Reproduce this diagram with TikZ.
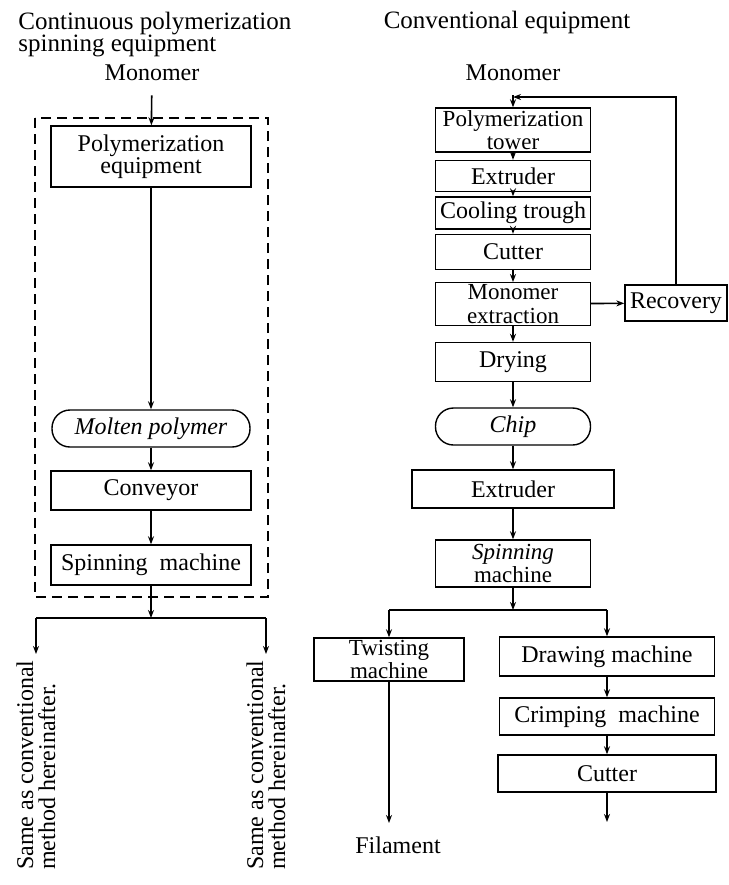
\documentclass[tikz,border=0pt]{standalone}
\usepackage{fontspec}
\setmainfont{Liberation Serif}
\usetikzlibrary{shapes}
\usetikzlibrary{positioning}
\usetikzlibrary{arrows.meta}

\begin{document}
\begin{tikzpicture}[x=0.5pt,y=-0.5pt]
        \tikzstyle{unit}=[rectangle,draw=black,line width=0.7pt,inner sep=1pt,align=center,font=\fontsize{12}{9.5}\selectfont]
        \tikzstyle{pair}=[unit,inner sep=1pt,font=\fontsize{11.5}{11.6}\selectfont]
        \tikzstyle{stock}=[unit,rounded corners=9pt,minimum height=18.5pt,font=\fontsize{12}{9.5}\selectfont\itshape]
        \tikzstyle{term}=[inner sep=1pt,font=\fontsize{12}{11}\selectfont]
        \tikzstyle{heading}=[inner sep=0pt,align=left,font=\fontsize{12.5}{11}\selectfont]
        \tikzstyle{note}=[inner sep=1pt,rotate=90,anchor=east,align=left,font=\fontsize{12}{11}\selectfont]
        \tikzstyle{link}=[draw,line width=0.8pt]
        \tikzstyle{flow}=[link,-{Stealth[length=4pt,width=3pt]}]
        \useasboundingbox (0,0) rectangle (729,885);
       % continuous polymerization spinning
       \begin{scope}
         \node [heading,anchor=north west] (titleA) at (18,12) {Continuous polymerization\\spinning equipment};
         \node [term] (monoA) at (152,73) {Monomer};
         \node [unit,minimum width=100pt,minimum height=30.5pt,font=\fontsize{12}{11}\selectfont] (polyeq) at (151,156.5) {Polymerization\\equipment};
         \node [stock,minimum width=99pt] (molten) at (151,428.5) {Molten polymer};
         \node [unit,minimum width=100pt,minimum height=19.5pt] (conv) at (151,490.5) {Conveyor};
         \node [unit,minimum width=100pt,minimum height=20pt] (spinA) at (151,565) {Spinning\ \ machine};
         \draw [line width=0.8pt,dash pattern=on 5pt off 3pt] (35,118) rectangle (268,597);
         \coordinate (jc) at (151,618);
         \coordinate (jl) at (36,618);
         \coordinate (jr) at (266,618);
         \node [note] (sameL) at (36,658) {Same as conventional\\method hereinafter.};
         \node [note] (sameR) at (266,658) {Same as conventional\\method hereinafter.};
         \draw[flow,shorten <=6pt] (monoA) -- (polyeq);
         \draw[flow] (polyeq) -- (molten);
         \draw[flow] (molten) -- (conv);
         \draw[flow] (conv) -- (spinA);
         \draw[flow] (spinA) -- (jc);
         \draw[link] (jl) -- (jr);
         \draw[flow,shorten >=2pt] (jl) -- (sameL.east);
         \draw[flow,shorten >=2pt] (jr) -- (sameR.east);
       \end{scope}
       % conventional
       \begin{scope}
         \node [heading] (titleB) at (507,22) {Conventional equipment};
         \node [term] (monoB) at (513,73) {Monomer};
         \node [pair,minimum width=77.5pt,minimum height=22pt] (tower) at (513,130) {Polymerization\\tower};
         \node [unit,minimum width=77.5pt,minimum height=15.5pt] (extrA) at (513,176) {Extruder};
         \node [unit,minimum width=77.5pt,minimum height=16pt] (cool) at (513,213) {Cooling trough};
         \node [unit,minimum width=77.5pt,minimum height=17.5pt] (cutA) at (513,252) {Cutter};
         \node [pair,minimum width=77.5pt,minimum height=19pt] (extract) at (513,304) {Monomer\\extraction};
         \node [unit,minimum width=51pt,minimum height=18pt] (recov) at (676,303) {Recovery};
         \node [unit,minimum width=77.5pt,minimum height=19.5pt] (dry) at (513,362) {Drying};
         \node [stock,minimum width=77.5pt] (chip) at (513,426.5) {Chip};
         \node [unit,minimum width=101pt,minimum height=19pt] (extrB) at (513,489) {Extruder};
         \node [pair,minimum width=77.5pt,minimum height=23.5pt] (spinB) at (513,563.5) {\textit{Spinning}\\machine};
         \node [pair,minimum width=75pt,minimum height=21.5pt] (twist) at (389,659.5) {Twisting\\machine};
         \node [unit,minimum width=107.5pt,minimum height=19.5pt] (drawm) at (607,656.5) {Drawing machine};
         \node [unit,minimum width=107.5pt,minimum height=18.5pt] (crimp) at (607,716.5) {Crimping\ \ machine};
         \node [unit,minimum width=109pt,minimum height=18.5pt] (cutB) at (607,773.5) {Cutter};
         \node [term] (fil) at (398,845) {Filament};
         \coordinate (fb) at (513,97);
         \coordinate (js) at (513,610);
         \coordinate (jt) at (389,610);
         \coordinate (jd) at (607,610);
         \coordinate (endF) at (389,823);
         \coordinate (endC) at (607,822);
         \draw[flow,shorten <=6pt] (monoB) -- (tower);
         \draw[flow] (tower) -- (extrA);
         \draw[flow] (extrA) -- (cool);
         \draw[flow] (cool) -- (cutA);
         \draw[flow] (cutA) -- (extract);
         \draw[flow] (extract) -- (recov);
         \draw[flow] (recov.north) |- (fb);
         \draw[flow] (extract) -- (dry);
         \draw[flow] (dry) -- (chip);
         \draw[flow] (chip) -- (extrB);
         \draw[flow] (extrB) -- (spinB);
         \draw[flow] (spinB) -- (js);
         \draw[link] (jt) -- (jd);
         \draw[flow] (jt) -- (twist);
         \draw[flow] (jd) -- (drawm);
         \draw[flow] (twist) -- (endF);
         \draw[flow] (drawm) -- (crimp);
         \draw[flow] (crimp) -- (cutB);
         \draw[flow] (cutB) -- (endC);
       \end{scope}
      \end{tikzpicture}
\end{document}
